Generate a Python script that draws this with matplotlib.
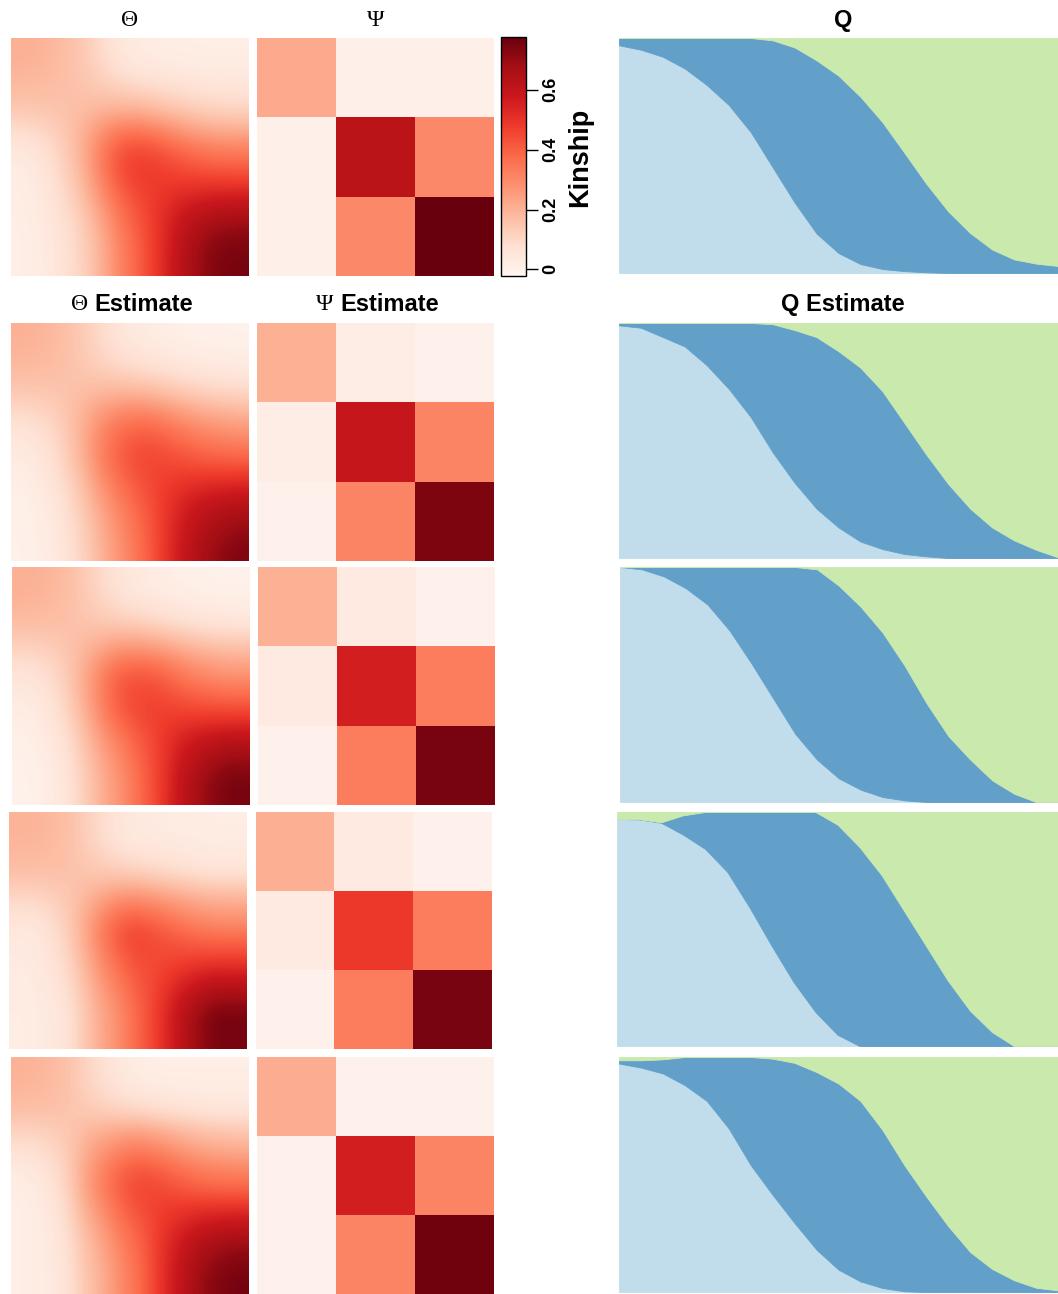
import numpy as np
import matplotlib
matplotlib.use('Agg')
import matplotlib.pyplot as plt

plt.rcParams['font.family'] = ['Liberation Sans', 'DejaVu Sans']

# sample positions of individuals along the Q panels (fraction of panel width)
pos = np.linspace(0, 1, 21)

# Q: lower boundary = share of pop 1, upper boundary = share of pop 1 + pop 2
q1_true = [.969, .95, .92, .87, .80, .715, .60, .45, .30, .168, .085, .038, .017, .008, .003, 0, 0, 0, 0, 0, 0]
q12_true = [1, 1, 1, 1, 1, 1, 1, .99, .96, .905, .84, .75, .642, .512, .38, .262, .17, .10, .058, .04, .03]

q1_est1 = [.99, .98, .94, .90, .82, .72, .60, .45, .32, .21, .13, .07, .038, .017, .007, 0, 0, 0, 0, 0, 0]
q12_est1 = [1, 1, 1, 1, 1, 1, 1, .995, .97, .94, .88, .81, .71, .575, .44, .315, .21, .13, .075, .035, .003]

q1_est2 = [1, .99, .96, .91, .84, .73, .59, .44, .29, .18, .10, .052, .021, .007, 0, 0, 0, 0, 0, 0, 0]
q12_est2 = [1, 1, 1, 1, 1, 1, 1, 1, 1, .99, .92, .83, .72, .58, .42, .28, .18, .092, .035, 0, 0]

q1_est3 = [.97, .969, .954, .903, .842, .744, .594, .43, .274, .145, .048, 0, 0, 0, 0, 0, 0, 0, 0, 0, 0]
q12_est3 = [.97, .969, .956, .986, 1, 1, 1, 1, 1, 1, .946, .85, .73, .58, .43, .28, .152, .06, 0, 0, 0]

q1_est4 = [.972, .955, .93, .88, .813, .696, .54, .413, .293, .18, .095, .045, .017, .003, 0, 0, 0, 0, 0, 0, 0]
q12_est4 = [.986, .986, .99, 1, 1, 1, 1, .993, .975, .936, .887, .813, .69, .54, .406, .28, .17, .098, .05, .018, .007]

# Psi: population kinship matrices
psi_true = [[.22, 0, 0], [0, .62, .30], [0, .30, .78]]
psi_est1 = [[.205, .018, -.005], [.018, .59, .31], [-.005, .31, .74]]
psi_est2 = [[.205, .028, -.005], [.028, .557, .33], [-.005, .33, .747]]
psi_est3 = [[.207, .028, -.005], [.028, .485, .33], [-.005, .33, .747]]
psi_est4 = [[.212, -.005, -.005], [-.005, .557, .31], [-.005, .31, .76]]

cbar_ticks = [0, 0.2, 0.4, 0.6]
vmin, vmax = -0.022, 0.776

rows = [(q1_true, q12_true, psi_true), (q1_est1, q12_est1, psi_est1),
        (q1_est2, q12_est2, psi_est2), (q1_est3, q12_est3, psi_est3),
        (q1_est4, q12_est4, psi_est4)]

c_light = '#c1ddeb'
c_dark = '#62a0ca'
c_green = '#c9e9ad'

W, H = 1058, 1294
fig = plt.figure(figsize=(W/100, H/100), dpi=100)

def ax_px(x0, y0, x1, y1):
    ax = fig.add_axes([x0/W, 1-y1/H, (x1-x0)/W, (y1-y0)/H])
    ax.set_axis_off()
    return ax

theta_box = [(11, 38, 249, 276), (11, 323, 249, 561), (12, 567, 250, 805), (9, 812, 247, 1049), (11, 1057, 249, 1294)]
psi_box = [(257, 38, 494, 276), (257, 323, 494, 561), (258, 567, 495, 805), (256, 812, 492, 1049), (257, 1057, 494, 1294)]
q_box = [(619, 38, 1058, 273), (619, 323, 1058, 558), (620, 567, 1058, 802), (617, 812, 1058, 1046), (619, 1057, 1058, 1292)]

for k, (q1, q12, psi) in enumerate(rows):
    q1 = np.array(q1)
    q12 = np.array(q12)
    Q = np.column_stack([q1, q12-q1, 1-q12])
    theta = Q @ np.array(psi) @ Q.T

    ax = ax_px(*theta_box[k])
    im = ax.imshow(theta, cmap='Reds', vmin=vmin, vmax=vmax, aspect='auto', interpolation='bicubic')

    ax = ax_px(*psi_box[k])
    ax.imshow(np.array(psi), cmap='Reds', vmin=vmin, vmax=vmax, aspect='auto', interpolation='nearest')

    ax = ax_px(*q_box[k])
    ax.fill_between(pos, 0, q1, color=c_light, lw=0.6)
    ax.fill_between(pos, q1, q12, color=c_dark, lw=0.6)
    ax.fill_between(pos, q12, 1, color=c_green, lw=0.6)
    ax.set_xlim(0, 1)
    ax.set_ylim(0, 1)

# colorbar
cax = fig.add_axes([501/W, 1-276/H, 25/W, 239/H])
cb = fig.colorbar(im, cax=cax, ticks=cbar_ticks)
cb.outline.set_linewidth(1)
cb.ax.set_yticklabels(['0', '0.2', '0.4', '0.6'], rotation=90, va='center', fontsize=13, fontweight='bold')
cb.ax.tick_params(length=8.5, width=1, pad=3)
fig.text(580/W, 1-157/H, 'Kinship', rotation=90, ha='center', va='center', fontsize=19.5, fontweight='bold')

# titles
def px(x, y):
    return x/W, 1-y/H

fig.text(*px(130, 20), 'Θ', family='Liberation Serif', fontsize=17, ha='center', va='center')
fig.text(*px(376, 20), 'Ψ', family='Liberation Serif', fontsize=17, ha='center', va='center')
fig.text(*px(843, 20), 'Q', fontsize=17, fontweight='bold', ha='center', va='center')
fig.text(*px(88, 305), 'Θ', family='Liberation Serif', fontsize=17, ha='right', va='center')
fig.text(*px(94, 305), 'Estimate', fontsize=17, fontweight='bold', ha='left', va='center')
fig.text(*px(333, 305), 'Ψ', family='Liberation Serif', fontsize=17, ha='right', va='center')
fig.text(*px(340, 305), 'Estimate', fontsize=17, fontweight='bold', ha='left', va='center')
fig.text(*px(843, 305), 'Q Estimate', fontsize=17, fontweight='bold', ha='center', va='center')

fig.savefig('out.png', dpi=100)
